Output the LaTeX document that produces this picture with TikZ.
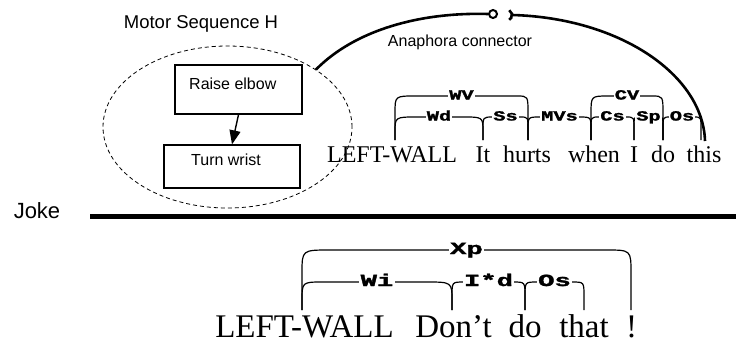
\documentclass[tikz,border=0pt]{standalone}
\usepackage{fontspec}
\setmainfont{Liberation Serif}
\newfontfamily\diagsans{Liberation Sans}
\newfontfamily\linkmono{Liberation Mono}[BoldFeatures={FakeBold=1.5}]
\usetikzlibrary{arrows.meta,calc,shapes.geometric}

% Link-grammar link: #1 left foot, #2 right foot, #3 rise above the feet,
% #4 left corner width, #5 right corner width, #6 corner height,
% #7 label style, #8 label text
\newcommand\lgarc[8]{%
  \draw[lglink] (#1) -- ($(#1)+(0,{-#3+#6})$)
    .. controls ($(#1)+(0,-#3)$) .. ($(#1)+(#4,-#3)$)
    -- ($(#2)+(-#5,-#3)$)
    .. controls ($(#2)+(0,-#3)$) .. ($(#2)+(0,{-#3+#6})$) -- (#2);
  \node[#7] at ($(#1)!0.5!(#2)+(0,-#3)$) {#8};
}

\begin{document}
\begin{tikzpicture}[x=1pt,y=-1pt,
  sans/.style={font=\diagsans\fontsize{#1}{#1}\selectfont, inner sep=0pt},
  stepbox/.style={draw, line width=1.3pt, inner sep=0pt},
  flow/.style={line width=1.4pt, -{Triangle[length=14pt,width=11pt]}},
  anaph/.style={line width=2.6pt},
  lglink/.style={line width=1.2pt},
  topword/.style={font=\fontsize{24}{24}\selectfont, inner sep=0pt, anchor=base},
  botword/.style={font=\fontsize{33}{33}\selectfont, inner sep=0pt, anchor=base},
  toplabel/.style={fill=white, inner xsep=0.8pt, inner ysep=0pt,
    text height=9pt, text depth=2pt, xscale=1.45, transform shape,
    font=\linkmono\bfseries\fontsize{14}{14}\selectfont},
  botlabel/.style={fill=white, inner xsep=0.8pt, inner ysep=0pt,
    text height=11pt, text depth=3pt, xscale=1.6, transform shape,
    font=\linkmono\bfseries\fontsize{17}{17}\selectfont}]

\useasboundingbox (0,0) rectangle (736,341);
\fill[white] (0,0) rectangle (736,341);

% ---- motor sequence group ----
\node[ellipse, draw, dash pattern=on 4pt off 3pt, line width=0.8pt,
  minimum width=249pt, minimum height=162pt, inner sep=0pt] (motorseq) at (227.5,127) {};
\node[sans=18.5] (seqtitle) at (201,24) {Motor Sequence H};
\node[stepbox, minimum width=127pt, minimum height=49pt] (raise) at (238.5,89.5) {};
\node[sans=16, anchor=west] (raisetxt) at (189,84) {Raise elbow};
\node[stepbox, minimum width=136pt, minimum height=43pt] (turn) at (232,166.5) {};
\node[sans=16, anchor=west] (turntxt) at (191,160) {Turn wrist};
\draw[flow] (raise.south) -- (turn.north);

% ---- anaphora connector (ball and socket) ----
\node[circle, draw, line width=2pt, minimum size=8pt, inner sep=0pt] (ball) at (493,14) {};
\coordinate (socket) at (506.5,15);
\coordinate (socketout) at (512.5,15);
\coordinate (anaend) at (705,141);
\draw[anaph] (motorseq.33) .. controls (355,30) and (420,12) .. (ball.west);
\draw[anaph] (socket) ++(-60:5.5) arc[start angle=-60,end angle=60,radius=5.5];
\draw[anaph] (socketout) .. controls (620,18) and (703,75) .. (anaend);
\node[sans=16] (analabel) at (460,42) {Anaphora connector};

% ---- first sentence ----
\node[topword] (t1) at (392,162) {LEFT-WALL};
\node[topword] (t2) at (483,162) {It};
\node[topword] (t3) at (527,162) {hurts};
\node[topword] (t4) at (594,162) {when};
\node[topword] (t5) at (634,162) {I};
\node[topword] (t6) at (663,162) {do};
\node[topword] (t7) at (704,162) {this};

\coordinate (a1) at (395,140);
\coordinate (a2) at (483,140);
\coordinate (a3) at (528,140);
\coordinate (a4) at (591,140);
\coordinate (a5) at (634,140);
\coordinate (a6) at (663,140);
\coordinate (a7) at (701,140);

\lgarc{a1}{a3}{44}{20}{11}{17}{toplabel}{WV}
\lgarc{a4}{a6}{44}{17}{11}{18}{toplabel}{CV}
\lgarc{a1}{a2}{23}{22}{20}{15}{toplabel}{Wd}
\lgarc{a2}{a3}{23}{10}{8}{12}{toplabel}{Ss}
\lgarc{a3}{a4}{23}{12}{12}{12}{toplabel}{MVs}
\lgarc{a4}{a5}{23}{8}{8}{12}{toplabel}{Cs}
\lgarc{a5}{a6}{23}{4}{4}{12}{toplabel}{Sp}
\lgarc{a6}{a7}{23}{7}{7}{12}{toplabel}{Os}

% ---- divider ----
\node[sans=22, anchor=base] (joke) at (37,218) {Joke};
\coordinate (divl) at (90,216);
\coordinate (divr) at (736,216);
\draw[line width=5pt] (divl) -- (divr);

% ---- second sentence ----
\node[botword] (s1) at (304.5,337.5) {LEFT-WALL};
\node[botword] (s2) at (453.5,337.5) {Don't};
\node[botword] (s3) at (525,337.5) {do};
\node[botword] (s4) at (584,337.5) {that};
\node[botword] (s5) at (631.5,337.5) {!};

\coordinate (b1) at (302,310);
\coordinate (b2) at (452,310);
\coordinate (b3) at (525,310);
\coordinate (b4) at (584,310);
\coordinate (b5) at (631,310);

\lgarc{b1}{b5}{60}{28}{25}{23}{botlabel}{Xp}
\lgarc{b1}{b2}{28}{21}{26}{19}{botlabel}{Wi}
\lgarc{b2}{b3}{28}{12}{12}{14}{botlabel}{I*d}
\lgarc{b3}{b4}{28}{12}{12}{14}{botlabel}{Os}

\end{tikzpicture}
\end{document}
